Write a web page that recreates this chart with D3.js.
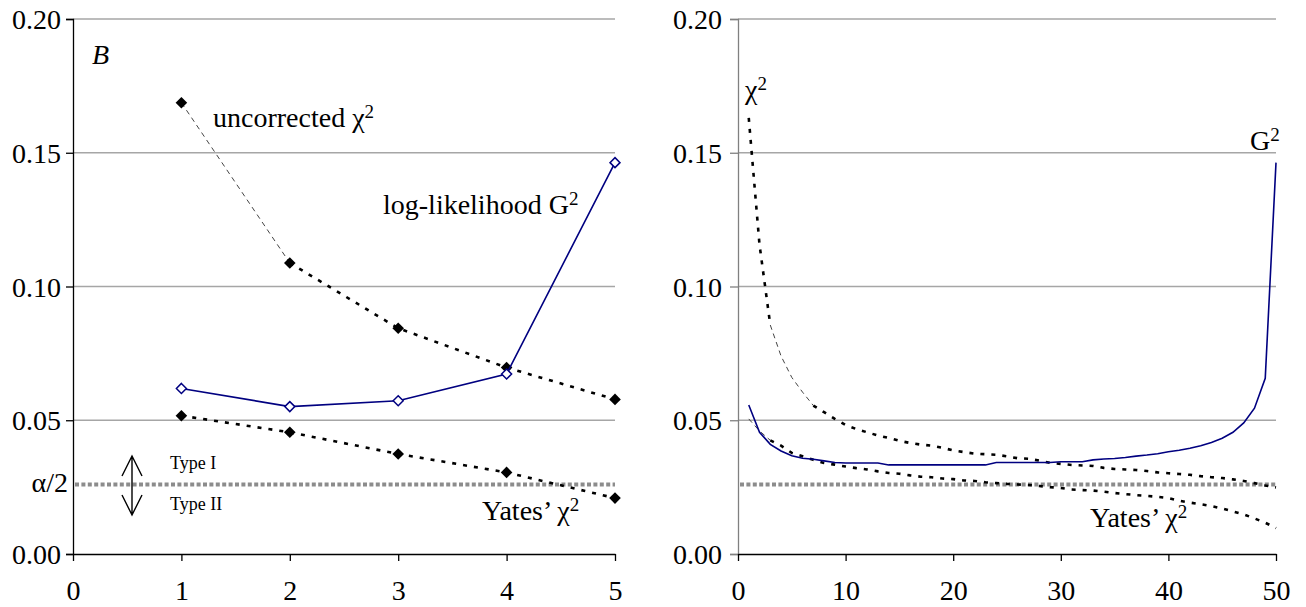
<!DOCTYPE html>
<html>
<head>
<meta charset="utf-8">
<script src="https://cdn.jsdelivr.net/npm/d3@7"></script>
<style>
  body { margin: 0; background: #fff; }
  svg text { font-family: "Liberation Serif", "Times New Roman", serif !important; fill: #000; }
</style>
</head>
<body>
<script>
// values
const leftX = [1, 2, 3, 4, 5];
const leftChi2 = [0.1687, 0.1088, 0.0844, 0.0697, 0.0578];
const leftYates = [0.0517, 0.0455, 0.0374, 0.0305, 0.0209];
const leftG2 = [0.0619, 0.0551, 0.0573, 0.0673, 0.1463];

const rightX = d3.range(1, 51);
const rightChi2 = [0.163, 0.1156, 0.0856, 0.074, 0.066, 0.0605, 0.0555, 0.053, 0.0505, 0.0482,
  0.0467, 0.0455, 0.0443, 0.0434, 0.0423, 0.0415, 0.0409, 0.0405, 0.0397, 0.0387,
  0.0381, 0.0375, 0.0373, 0.0371, 0.0365, 0.0358, 0.0356, 0.0349, 0.0341, 0.0337,
  0.0333, 0.0331, 0.0329, 0.0322, 0.0318, 0.0316, 0.0314, 0.031, 0.0305, 0.0302,
  0.0299, 0.0296, 0.0291, 0.0287, 0.0284, 0.0279, 0.0273, 0.0265, 0.0256, 0.0249];
const rightYates = [0.0505, 0.046, 0.0425, 0.0405, 0.0378, 0.0365, 0.0352, 0.034, 0.0334, 0.0327,
  0.0321, 0.0316, 0.0309, 0.0303, 0.03, 0.0294, 0.0289, 0.0287, 0.0282, 0.028,
  0.0275, 0.0273, 0.0268, 0.0265, 0.0262, 0.026, 0.0258, 0.0254, 0.025, 0.0247,
  0.0241, 0.0239, 0.0237, 0.0233, 0.0228, 0.0224, 0.022, 0.0217, 0.0214, 0.0209,
  0.0199, 0.0192, 0.0186, 0.0179, 0.017, 0.0159, 0.0148, 0.0133, 0.0117, 0.0097];
const rightG2 = [0.0557, 0.0455, 0.041, 0.0385, 0.0367, 0.0358, 0.0354, 0.0348, 0.0342, 0.034,
  0.034, 0.034, 0.034, 0.0333, 0.0333, 0.0333, 0.0333, 0.0333, 0.0333, 0.0333,
  0.0333, 0.0333, 0.0333, 0.0342, 0.0342, 0.0342, 0.0342, 0.0342, 0.0342, 0.0345,
  0.0345, 0.0345, 0.0352, 0.0355, 0.0357, 0.0361, 0.0366, 0.037, 0.0375, 0.0382,
  0.0388, 0.0395, 0.0405, 0.0417, 0.0433, 0.0455, 0.049, 0.0545, 0.0657, 0.1463];

const alphaHalf = 0.026;
const yTicks = [0, 0.05, 0.10, 0.15, 0.20];
const leftXTicks = [0, 1, 2, 3, 4, 5];
const rightXTicks = [0, 10, 20, 30, 40, 50];

const width = 1306, height = 607;
const svg = d3.select("body").append("svg").attr("width", width).attr("height", height)
  .style("font-family", "'Liberation Serif', serif");

const plotTop = 19, plotBottom = 554;
const navy = "#000080";
const serif = "'Liberation Serif', 'Times New Roman', serif";

// dotted black series; steep parts come out as thin grey dashes like in the original
function dotted(g, xs, ys, x, y) {
  const pts = xs.map((d, i) => [x(d), y(ys[i])]);
  const runs = [];
  for (let i = 0; i < pts.length - 1; i++) {
    const dx = Math.abs(pts[i + 1][0] - pts[i][0]), dy = Math.abs(pts[i + 1][1] - pts[i][1]);
    const ang = Math.atan2(dy, dx) * 180 / Math.PI;
    const steep = ang > 40 && ang < 80;
    let run = runs[runs.length - 1];
    if (!run || run.steep !== steep) { run = {steep, pts: [pts[i]]}; runs.push(run); }
    run.pts.push(pts[i + 1]);
  }
  runs.forEach(r => {
    g.append("path").attr("d", d3.line()(r.pts))
      .attr("fill", "none")
      .attr("stroke", r.steep ? "#444" : "#000")
      .attr("stroke-width", r.steep ? 1 : 2.6)
      .attr("stroke-dasharray", r.steep ? "5,4" : "4,7");
  });
}

const diamond = r => `M0,${-r}L${r},0L0,${r}L${-r},0Z`;

function panel(x0, x1, xDomain, xTicks, yAxisColor, tickLen, tickPad) {
  const g = svg.append("g");
  const x = d3.scaleLinear().domain(xDomain).range([x0, x1]);
  const y = d3.scaleLinear().domain([0, 0.2]).range([plotBottom, plotTop]);

  // gridlines
  g.append("g").selectAll("line").data(yTicks.slice(1)).join("line")
    .attr("x1", x0).attr("x2", x1).attr("y1", d => y(d)).attr("y2", d => y(d))
    .attr("stroke", "#a6a6a6").attr("stroke-width", 1.5);

  // y axis
  const ya = g.append("g").attr("transform", `translate(${x0},0)`)
    .call(d3.axisLeft(y).tickValues(yTicks).tickFormat(d3.format(".2f")).tickSize(tickLen).tickPadding(tickPad))
    .attr("font-family", serif).attr("font-size", 28);
  ya.select(".domain").attr("stroke", yAxisColor).attr("stroke-width", 1.3);
  ya.selectAll(".tick line").attr("stroke", yAxisColor).attr("stroke-width", 1.3);
  ya.selectAll("text").style("font-family", serif).style("font-size", "28px").attr("dy", "0.34em");

  // x axis
  const xa = g.append("g").attr("transform", `translate(0,${plotBottom})`)
    .call(d3.axisBottom(x).tickValues(xTicks).tickFormat(d3.format("d")).tickSize(7).tickSizeOuter(0))
    .attr("font-family", serif).attr("font-size", 28);
  xa.select(".domain").attr("stroke", "#000").attr("stroke-width", 1.3);
  xa.selectAll(".tick line").attr("stroke", "#000").attr("stroke-width", 1.3);
  xa.selectAll("text").style("font-family", serif).style("font-size", "28px")
    .attr("y", 46).attr("dy", 0);

  // alpha/2 line
  g.append("line").attr("x1", x0 + 2).attr("x2", x1).attr("y1", y(alphaHalf)).attr("y2", y(alphaHalf))
    .attr("stroke", "#8c8c8c").attr("stroke-width", 4).attr("stroke-dasharray", "4,2.4");

  return {g, x, y};
}

function label(g, px, py, main, sup, anchor, size = 28) {
  const t = g.append("text").attr("x", px).attr("y", py).attr("font-size", size)
    .attr("text-anchor", anchor || "start");
  t.append("tspan").text(main);
  if (sup) t.append("tspan").attr("dy", -9).attr("font-size", 19).text(sup);
  return t;
}

// ---- left panel
const L = panel(73, 615, [0, 5], leftXTicks, "#000", 7, 5);
dotted(L.g, leftX, leftChi2, L.x, L.y);
dotted(L.g, leftX, leftYates, L.x, L.y);
L.g.append("g").selectAll("path").data(leftX.map((d, i) => [d, leftChi2[i]]).concat(leftX.map((d, i) => [d, leftYates[i]])))
  .join("path").attr("d", diamond(5.8))
  .attr("transform", d => `translate(${L.x(d[0])},${L.y(d[1])})`).attr("fill", "#000");
L.g.append("path").datum(leftX.map((d, i) => [d, leftG2[i]]))
  .attr("d", d3.line().x(d => L.x(d[0])).y(d => L.y(d[1])))
  .attr("fill", "none").attr("stroke", navy).attr("stroke-width", 1.6);
L.g.append("g").selectAll("path").data(leftX.map((d, i) => [d, leftG2[i]]))
  .join("path").attr("d", diamond(5))
  .attr("transform", d => `translate(${L.x(d[0])},${L.y(d[1])})`)
  .attr("fill", "#fff").attr("stroke", navy).attr("stroke-width", 1.5);

L.g.append("text").attr("x", 92).attr("y", 64).attr("font-size", 28).attr("font-style", "italic").text("B");
label(L.g, 213, 127, "uncorrected χ", "2");
label(L.g, 383, 214, "log-likelihood G", "2");
label(L.g, 482, 520, "Yates’ χ", "2");
L.g.append("text").attr("x", 68).attr("y", 492).attr("font-size", 28).attr("text-anchor", "end").text("α/2");
L.g.append("text").attr("x", 170).attr("y", 469).attr("font-size", 18).text("Type I");
L.g.append("text").attr("x", 170).attr("y", 510).attr("font-size", 18).text("Type II");
// double arrow
const ax = 132, aTop = 456, aBot = 515;
L.g.append("path")
  .attr("d", `M${ax},${aTop}L${ax},${aBot}M${ax - 10},${aTop + 20}L${ax},${aTop}L${ax + 10},${aTop + 20}` +
             `M${ax - 10},${aBot - 20}L${ax},${aBot}L${ax + 10},${aBot - 20}`)
  .attr("fill", "none").attr("stroke", "#000").attr("stroke-width", 1.4);

// ---- right panel
const R = panel(738, 1276, [0, 50], rightXTicks, "#808080", 8, 8);
dotted(R.g, rightX, rightChi2, R.x, R.y);
dotted(R.g, rightX, rightYates, R.x, R.y);
R.g.append("path").datum(rightX.map((d, i) => [d, rightG2[i]]))
  .attr("d", d3.line().x(d => R.x(d[0])).y(d => R.y(d[1])))
  .attr("fill", "none").attr("stroke", navy).attr("stroke-width", 1.6);

label(R.g, 745, 99, "χ", "2");
label(R.g, 1250, 150, "G", "2");
label(R.g, 1090, 527, "Yates’ χ", "2");
</script>
</body>
</html>
